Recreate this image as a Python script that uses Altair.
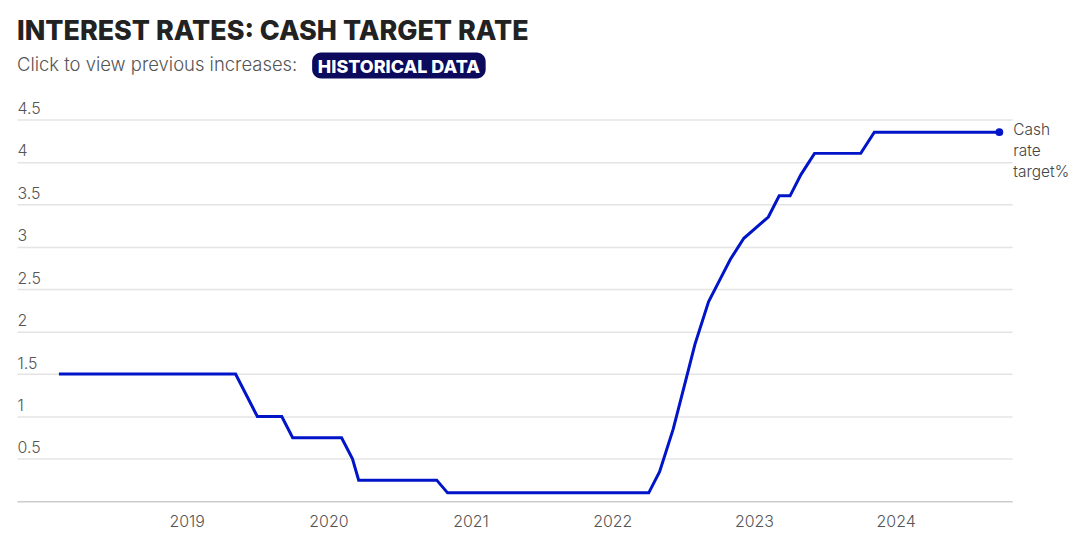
import altair as alt
import pandas as pd

# RBA decision dates and cash rate target (%)
dates = [
    "2018-02-06", "2018-03-06", "2018-04-03", "2018-05-01", "2018-06-05", "2018-07-03",
    "2018-08-07", "2018-09-04", "2018-10-02", "2018-11-06", "2018-12-04",
    "2019-02-05", "2019-03-05", "2019-04-02", "2019-05-07", "2019-06-04", "2019-07-02",
    "2019-08-06", "2019-09-03", "2019-10-01", "2019-11-05", "2019-12-03",
    "2020-02-04", "2020-03-03", "2020-03-19", "2020-04-07", "2020-05-05", "2020-06-02",
    "2020-07-07", "2020-08-04", "2020-09-01", "2020-10-06", "2020-11-03", "2020-12-01",
    "2021-02-02", "2021-03-02", "2021-04-06", "2021-05-04", "2021-06-01", "2021-07-06",
    "2021-08-03", "2021-09-07", "2021-10-05", "2021-11-02", "2021-12-07",
    "2022-02-01", "2022-03-01", "2022-04-05", "2022-05-03", "2022-06-07", "2022-07-05",
    "2022-08-02", "2022-09-06", "2022-10-04", "2022-11-01", "2022-12-06",
    "2023-02-07", "2023-03-07", "2023-04-04", "2023-05-02", "2023-06-06", "2023-07-04",
    "2023-08-01", "2023-09-05", "2023-10-03", "2023-11-07", "2023-12-05",
    "2024-02-06", "2024-03-19", "2024-05-07", "2024-06-18", "2024-08-06", "2024-09-24",
]
rates = [
    1.50, 1.50, 1.50, 1.50, 1.50, 1.50,
    1.50, 1.50, 1.50, 1.50, 1.50,
    1.50, 1.50, 1.50, 1.50, 1.25, 1.00,
    1.00, 1.00, 0.75, 0.75, 0.75,
    0.75, 0.50, 0.25, 0.25, 0.25, 0.25,
    0.25, 0.25, 0.25, 0.25, 0.10, 0.10,
    0.10, 0.10, 0.10, 0.10, 0.10, 0.10,
    0.10, 0.10, 0.10, 0.10, 0.10,
    0.10, 0.10, 0.10, 0.35, 0.85, 1.35,
    1.85, 2.35, 2.60, 2.85, 3.10,
    3.35, 3.60, 3.60, 3.85, 4.10, 4.10,
    4.10, 4.10, 4.10, 4.35, 4.35,
    4.35, 4.35, 4.35, 4.35, 4.35, 4.35,
]
y_ticks = [0.5, 1, 1.5, 2, 2.5, 3, 3.5, 4, 4.5]
x_ticks = ["2019-01-01", "2020-01-01", "2021-01-01", "2022-01-01", "2023-01-01", "2024-01-01"]
series_label = ["Cash", "rate", "target%"]
title_text = "INTEREST RATES: CASH TARGET RATE"
subtitle_text = "Click to view previous increases:"
badge_text = "HISTORICAL DATA"

df = pd.DataFrame({"date": pd.to_datetime(dates), "rate": rates})
last = df.tail(1).assign(label=[series_label])

LINE = "#0014c8"
FONT = "Inter"

x = alt.X("date:T",
          scale=alt.Scale(domain=["2017-10-21", "2024-10-27"]),
          axis=alt.Axis(title=None, format="%Y",
                        values=[alt.DateTime(year=int(d[:4]), month=1, date=1) for d in x_ticks],
                        grid=False, ticks=False, domain=True, domainColor="#cccccc",
                        domainWidth=1.5, labelColor="#555555", labelFontSize=16,
                        labelFont=FONT, labelFontWeight=300, labelPadding=12))
y = alt.Y("rate:Q",
          scale=alt.Scale(domain=[0, 4.5], nice=False),
          axis=alt.Axis(title=None, values=y_ticks, format="~g", grid=True,
                        gridColor="#e4e4e4", gridWidth=1.5, ticks=False, domain=False,
                        labelAlign="left", labelBaseline="alphabetic", labelPadding=0,
                        labelOffset=-6, labelColor="#555555", labelFontSize=16,
                        labelFont=FONT, labelFontWeight=300))

line = alt.Chart(df).mark_line(color=LINE, strokeWidth=3).encode(x=x, y=y)
point = alt.Chart(last).mark_point(filled=True, color=LINE, size=60, opacity=1).encode(x="date:T", y="rate:Q")
end_label = alt.Chart(last).mark_text(align="left", baseline="top", dx=14, dy=-9,
                                      fontSize=15.5, lineHeight=21, color="#444444",
                                      font=FONT, fontWeight=300).encode(x="date:T", y="rate:Q", text="label")

deco = pd.DataFrame({"t": [title_text], "s": [subtitle_text], "b": [badge_text]})
title = alt.Chart(deco).mark_text(align="left", baseline="alphabetic", fontSize=27,
                                  fontWeight=800, font=FONT, color="#222222").encode(
    x=alt.value(0), y=alt.value(-80), text="t")
subtitle = alt.Chart(deco).mark_text(align="left", baseline="alphabetic", fontSize=18.5,
                                     font=FONT, fontWeight=300, color="#555555").encode(
    x=alt.value(0), y=alt.value(-49), text="s")
badge_bg = alt.Chart(deco).mark_rect(color="#0b0a5c", cornerRadius=9).encode(
    x=alt.value(296), x2=alt.value(470), y=alt.value(-67), y2=alt.value(-41))
badge = alt.Chart(deco).mark_text(align="center", baseline="alphabetic", fontSize=18,
                                  fontWeight=800, font=FONT, color="white").encode(
    x=alt.value(383), y=alt.value(-47), text="b")

chart = alt.layer(line, point, end_label, title, subtitle, badge_bg, badge).properties(
    width=998, height=383,
    autosize=alt.AutoSizeParams(type="none"),
    padding={"left": 9, "top": 111, "right": 60, "bottom": 30},
).configure(background="white").configure_view(stroke=None)

chart.save("out.html", embed_options={"renderer": "svg", "actions": False})
